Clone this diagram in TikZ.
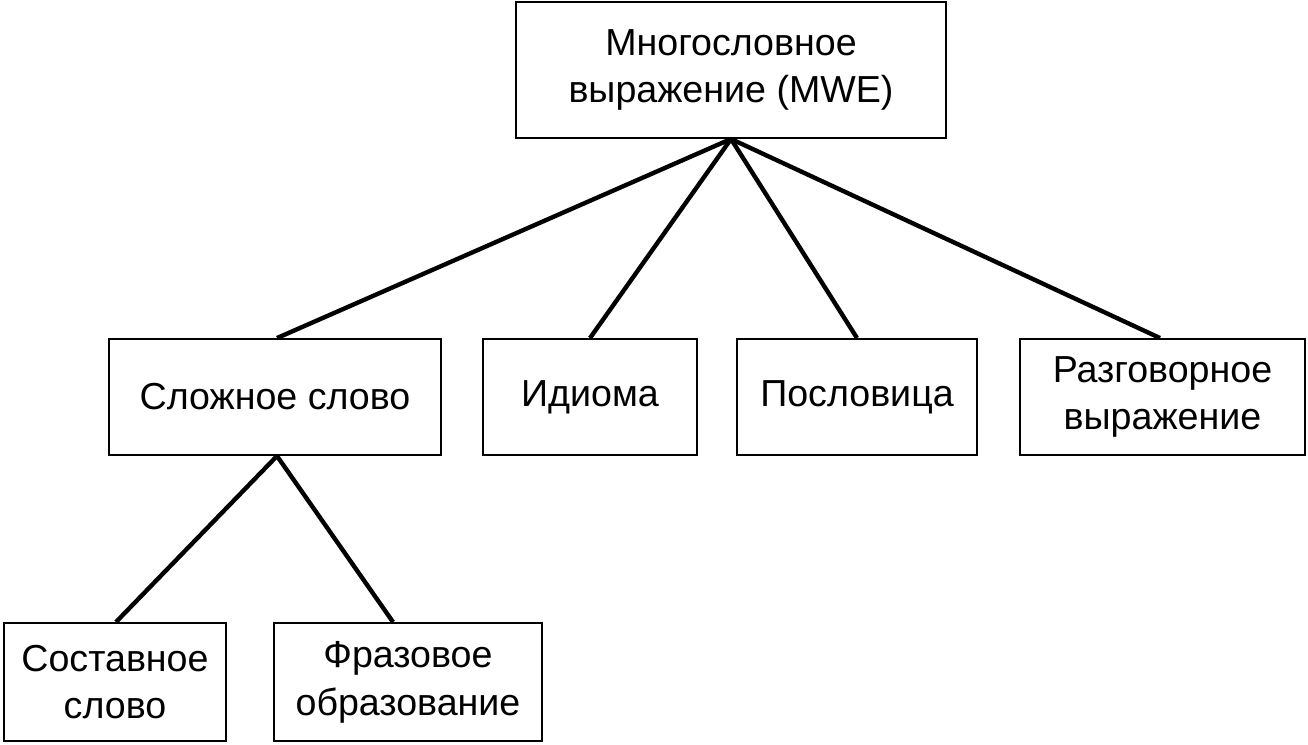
\documentclass[tikz,border=0pt]{standalone}
\usepackage{fontspec}
\setmainfont{Liberation Sans}
\usetikzlibrary{positioning}

\begin{document}
\begin{tikzpicture}[
        termbox/.style={draw, line width=1.1pt, minimum height=2.32cm, align=center, inner sep=0pt, font=\fontsize{21.4}{27.2}\selectfont},
        link/.style={line width=2.5pt}
    ]
    \useasboundingbox (0,0) rectangle (26.16,-14.88);

    % --- Root ---
    \node[termbox, minimum width=8.6cm, minimum height=2.72cm] (mwe) at (14.62,-1.40) {Многословное\\выражение (MWE)};

    % --- Second level ---
    \node[termbox, minimum width=6.64cm] (complex) at (5.50,-7.94) {Сложное слово};
    \node[termbox, minimum width=4.28cm] (idiom) at (11.80,-7.94) {Идиома};
    \node[termbox, minimum width=4.80cm] (proverb) at (17.14,-7.94) {Пословица};
    \node[termbox, minimum width=5.70cm] (colloq) at (23.25,-7.94) {Разговорное\\выражение};

    % --- Third level ---
    \node[termbox, minimum width=4.44cm, minimum height=2.36cm] (compound) at (2.30,-13.64) {Составное\\слово};
    \node[termbox, minimum width=5.36cm, minimum height=2.36cm] (phrasal) at (8.16,-13.64) {Фразовое\\образование};

    % --- Links ---
    \draw[link] (mwe.south) -- ([xshift=0.04cm]complex.north);
    \draw[link] (mwe.south) -- (idiom.north);
    \draw[link] (mwe.south) -- (proverb.north);
    \draw[link] (mwe.south) -- ([xshift=-0.05cm]colloq.north);
    \draw[link] ([xshift=0.04cm]complex.south) -- ([xshift=0.02cm]compound.north);
    \draw[link] ([xshift=0.04cm]complex.south) -- ([xshift=-0.30cm]phrasal.north);
\end{tikzpicture}
\end{document}
